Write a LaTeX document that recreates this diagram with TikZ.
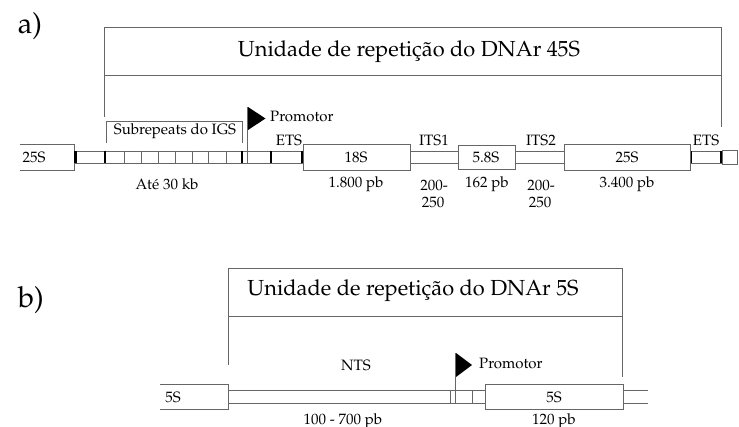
\documentclass[tikz,border=0pt]{standalone}
\usepackage[T1]{fontenc}
\renewcommand{\rmdefault}{ppl}
\begin{document}
\begin{tikzpicture}[x=1pt,y=-1pt,
  ln/.style={draw=black!60, line width=0.9pt},
  bar/.style={draw=black, line width=2.4pt},
  boxst/.style={ln, fill=white},
  lbl/.style={font=\fontsize{15}{17}\selectfont, inner sep=0pt},
  ttl/.style={font=\fontsize{21.8}{26}\selectfont, inner sep=0pt},
  part/.style={font=\fontsize{29}{33}\selectfont, inner sep=0pt}]
\useasboundingbox (0,0) rectangle (739,427);
% ---------------- a) ----------------
\node[part] (pa) at (30,26) {a)};
\draw[ln] (104,117) -- (104,27) -- (721,27) -- (721,127);
\draw[ln] (104,75) -- (721,75);
\node[ttl] (ta) at (409,52) {Unidade de repeti\c{c}\~ao do DNAr 45S};
% band
\draw[boxst] (74,151) rectangle (722,163);
% left 25S (open left end)
\draw[ln, fill=white] (20,144) -- (74,144) -- (74,170) -- (20,170);
\node[lbl] (l25a) at (34,157) {25S};
% subrepeat dividers
\foreach \x in {124,141,158,175,192,208,226} \draw[ln] (\x,151) -- (\x,163);
\foreach \x in {75.5,105,242,271,302,691,721} \draw[bar] (\x,151) -- (\x,163);
% subrepeats bracket
\draw[ln] (106,143) -- (106,121) -- (242,121) -- (242,143);
\node[lbl] (sub) at (175,131) {Subrepeats do IGS};
\node[lbl] (ate) at (167,184) {At\'e 30 kb};
% promoter
\draw[ln] (247,163) -- (247,107);
\fill (248,107) -- (265.5,118.5) -- (248,130) -- cycle;
\node[lbl, anchor=west] (proa) at (270,116) {Promotor};
\node[lbl] (etsa) at (289,140) {ETS};
% genes
\draw[boxst] (303,144) rectangle (410,170);
\node[lbl] (g18) at (356,157) {18S};
\node[lbl] (s18) at (356,184) {1.800 pb};
\node[lbl] (its1) at (434,140) {ITS1};
\node[lbl] (i1a) at (434,185) {200-};
\node[lbl] (i1b) at (433,202) {250};
\draw[boxst] (458,145) rectangle (515,169);
\node[lbl] (g58) at (486,157) {5.8S};
\node[lbl] (s58) at (487,184) {162 pb};
\node[lbl] (its2) at (541,140) {ITS2};
\node[lbl] (i2a) at (541,185) {200-};
\node[lbl] (i2b) at (540,202) {250};
\draw[boxst] (564,144) rectangle (690,170);
\node[lbl] (g25) at (627,157) {25S};
\node[lbl] (s25) at (627,184) {3.400 pb};
\node[lbl] (etsb) at (706,140) {ETS};
\draw[boxst] (722,150) rectangle (737,164);
% ---------------- b) ----------------
\node[part] (pb) at (31,300) {b)};
\draw[ln] (228,365) -- (228,268) -- (622,268) -- (622,377);
\draw[ln] (228,316) -- (622,316);
\node[ttl] (tb) at (413,291) {Unidade de repeti\c{c}\~ao do DNAr 5S};
\draw[ln, fill=white] (160,384) -- (228,384) -- (228,409) -- (160,409);
\node[lbl] (l5) at (173,397) {5S};
\draw[boxst] (228,390) rectangle (485,403);
\foreach \x in {450,472} \draw[ln] (\x,390) -- (\x,403);
\draw[ln] (455,403) -- (455,353);
\fill (456,353) -- (472,365) -- (456,377) -- cycle;
\node[lbl, anchor=west] (prob) at (479,363) {Promotor};
\node[lbl] (nts) at (356,365) {NTS};
\node[lbl] (snts) at (343,421) {100 - 700 pb};
\draw[boxst] (485,384) rectangle (623,409);
\node[lbl] (g5) at (554,397) {5S};
\node[lbl] (s5) at (554,421) {120 pb};
\draw[ln] (623,390) -- (648,390);
\draw[ln] (623,403) -- (648,403);
\end{tikzpicture}
\end{document}
